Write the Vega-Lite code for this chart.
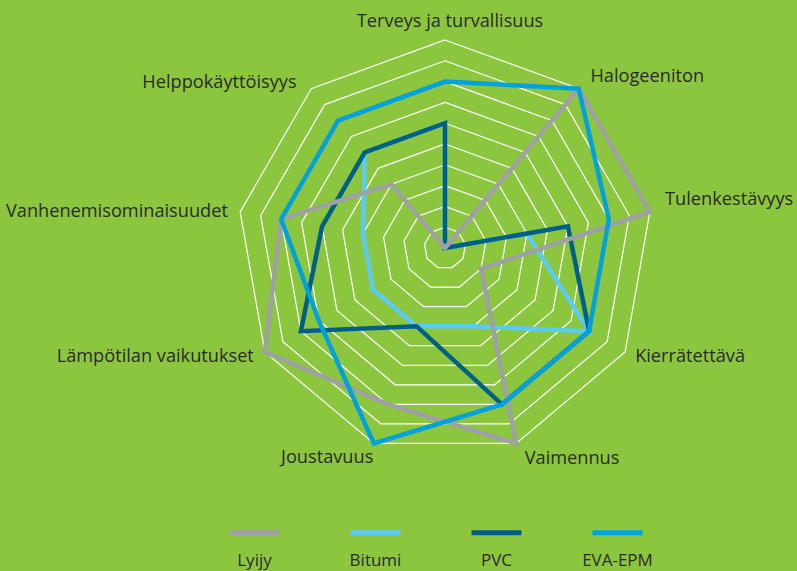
{
  "$schema": "https://vega.github.io/schema/vega-lite/v6.json",
  "width": 797,
  "height": 571,
  "autosize": {"type": "none"},
  "padding": 0,
  "background": "#8cc63f",
  "config": {"view": {"stroke": null}, "font": "Open Sans", "text": {"font": "Open Sans", "fontSize": 18.2, "color": "#2b2b2b", "baseline": "middle"}},
  "datasets": {
    "rings": [
      {"ring": 1, "a": [0,1,2,3,4,5,6,7,8]},
      {"ring": 2, "a": [0,1,2,3,4,5,6,7,8]},
      {"ring": 3, "a": [0,1,2,3,4,5,6,7,8]},
      {"ring": 4, "a": [0,1,2,3,4,5,6,7,8]},
      {"ring": 5, "a": [0,1,2,3,4,5,6,7,8]},
      {"ring": 6, "a": [0,1,2,3,4,5,6,7,8]},
      {"ring": 7, "a": [0,1,2,3,4,5,6,7,8]},
      {"ring": 8, "a": [0,1,2,3,4,5,6,7,8]},
      {"ring": 9, "a": [0,1,2,3,4,5,6,7,8]},
      {"ring": 10, "a": [0,1,2,3,4,5,6,7,8]}
    ],
    "labels": [
      {"label": "Terveys ja turvallisuus", "a": 0},
      {"label": "Halogeeniton", "a": 1},
      {"label": "Tulenkestävyys", "a": 2},
      {"label": "Kierrätettävä", "a": 3},
      {"label": "Vaimennus", "a": 4},
      {"label": "Joustavuus", "a": 5},
      {"label": "Lämpötilan vaikutukset", "a": 6},
      {"label": "Vanhenemisominaisuudet", "a": 7},
      {"label": "Helppokäyttöisyys", "a": 8}
    ],
    "scores": [
      {"s": "Bitumi", "a": 0, "v": 6},
      {"s": "Bitumi", "a": 1, "v": 0},
      {"s": "Bitumi", "a": 2, "v": 4},
      {"s": "Bitumi", "a": 3, "v": 8},
      {"s": "Bitumi", "a": 4, "v": 4},
      {"s": "Bitumi", "a": 5, "v": 4},
      {"s": "Bitumi", "a": 6, "v": 4},
      {"s": "Bitumi", "a": 7, "v": 4},
      {"s": "Bitumi", "a": 8, "v": 6},
      {"s": "PVC", "a": 0, "v": 6},
      {"s": "PVC", "a": 1, "v": 0},
      {"s": "PVC", "a": 2, "v": 6},
      {"s": "PVC", "a": 3, "v": 8},
      {"s": "PVC", "a": 4, "v": 8},
      {"s": "PVC", "a": 5, "v": 4},
      {"s": "PVC", "a": 6, "v": 8},
      {"s": "PVC", "a": 7, "v": 6},
      {"s": "PVC", "a": 8, "v": 6},
      {"s": "Lyijy", "a": 0, "v": 0},
      {"s": "Lyijy", "a": 1, "v": 10},
      {"s": "Lyijy", "a": 2, "v": 10},
      {"s": "Lyijy", "a": 3, "v": 2},
      {"s": "Lyijy", "a": 4, "v": 10},
      {"s": "Lyijy", "a": 5, "v": 8},
      {"s": "Lyijy", "a": 6, "v": 10},
      {"s": "Lyijy", "a": 7, "v": 8},
      {"s": "Lyijy", "a": 8, "v": 4},
      {"s": "EVA-EPM", "a": 0, "v": 8},
      {"s": "EVA-EPM", "a": 1, "v": 10},
      {"s": "EVA-EPM", "a": 2, "v": 8},
      {"s": "EVA-EPM", "a": 3, "v": 8},
      {"s": "EVA-EPM", "a": 4, "v": 8},
      {"s": "EVA-EPM", "a": 5, "v": 10},
      {"s": "EVA-EPM", "a": 6, "v": 7},
      {"s": "EVA-EPM", "a": 7, "v": 8},
      {"s": "EVA-EPM", "a": 8, "v": 8}
    ]
  },
  "layer": [
    {
      "data": {"name": "rings"},
      "transform": [
        {"flatten": ["a"]},
        {"calculate": "datum.ring * sin(datum.a * 2 * PI / 9)", "as": "x"},
        {"calculate": "datum.ring * cos(datum.a * 2 * PI / 9)", "as": "y"}
      ],
      "mark": {"type": "line", "interpolate": "linear-closed", "stroke": "#ffffff", "strokeWidth": 1.2},
      "encoding": {
        "x": {"field": "x", "type": "quantitative", "scale": {"domain": [-21.394, 16.923], "nice": false, "zero": false}, "axis": null},
        "y": {"field": "y", "type": "quantitative", "scale": {"domain": [-15.529, 11.923], "nice": false, "zero": false}, "axis": null},
        "detail": {"field": "ring", "type": "nominal"},
        "order": {"field": "a", "type": "quantitative"}
      }
    },
    {
      "data": {"name": "scores"},
      "transform": [
        {"calculate": "datum.v * sin(datum.a * 2 * PI / 9)", "as": "x"},
        {"calculate": "datum.v * cos(datum.a * 2 * PI / 9)", "as": "y"}
      ],
      "mark": {"type": "line", "interpolate": "linear-closed", "strokeWidth": 4.5, "strokeJoin": "miter", "strokeMiterLimit": 20},
      "encoding": {
        "x": {"field": "x", "type": "quantitative"},
        "y": {"field": "y", "type": "quantitative"},
        "order": {"field": "a", "type": "quantitative"},
        "color": {
          "field": "s",
          "type": "nominal",
          "scale": {"domain": ["Lyijy", "Bitumi", "PVC", "EVA-EPM"], "range": ["#9fa0a4", "#5bcbf2", "#005f86", "#00a1dc"]},
          "legend": {
            "title": null,
            "orient": "none",
            "legendX": 227,
            "legendY": 505,
            "direction": "horizontal",
            "symbolType": "stroke",
            "symbolSize": 2500,
            "symbolStrokeWidth": 5,
            "labelAlign": "center",
            "labelOffset": -27.5,
            "labelFont": "Open Sans",
            "labelFontSize": 17,
            "labelColor": "#2b2b2b",
            "gridAlign": "all",
            "columnPadding": 50,
            "encode": {"labels": {"update": {"dy": {"value": 28}}}}
          }
        }
      }
    },
    {
      "data": {"name": "labels"},
      "transform": [{"filter": "datum.a == 0"}, {"calculate": "10.5 * sin(datum.a * 2 * PI / 9)", "as": "x"}, {"calculate": "10.5 * cos(datum.a * 2 * PI / 9)", "as": "y"}],
      "mark": {"type": "text", "align": "center", "dx": 5, "dy": -8},
      "encoding": {"x": {"field": "x", "type": "quantitative"}, "y": {"field": "y", "type": "quantitative"}, "text": {"field": "label"}}
    },
    {
      "data": {"name": "labels"},
      "transform": [{"filter": "datum.a == 1"}, {"calculate": "10.5 * sin(datum.a * 2 * PI / 9)", "as": "x"}, {"calculate": "10.5 * cos(datum.a * 2 * PI / 9)", "as": "y"}],
      "mark": {"type": "text", "align": "left", "dx": 5, "dy": -4},
      "encoding": {"x": {"field": "x", "type": "quantitative"}, "y": {"field": "y", "type": "quantitative"}, "text": {"field": "label"}}
    },
    {
      "data": {"name": "labels"},
      "transform": [{"filter": "datum.a == 2"}, {"calculate": "10.5 * sin(datum.a * 2 * PI / 9)", "as": "x"}, {"calculate": "10.5 * cos(datum.a * 2 * PI / 9)", "as": "y"}],
      "mark": {"type": "text", "align": "left", "dx": 5, "dy": -10},
      "encoding": {"x": {"field": "x", "type": "quantitative"}, "y": {"field": "y", "type": "quantitative"}, "text": {"field": "label"}}
    },
    {
      "data": {"name": "labels"},
      "transform": [{"filter": "datum.a == 3"}, {"calculate": "10.5 * sin(datum.a * 2 * PI / 9)", "as": "x"}, {"calculate": "10.5 * cos(datum.a * 2 * PI / 9)", "as": "y"}],
      "mark": {"type": "text", "align": "left", "dx": 1, "dy": 0},
      "encoding": {"x": {"field": "x", "type": "quantitative"}, "y": {"field": "y", "type": "quantitative"}, "text": {"field": "label"}}
    },
    {
      "data": {"name": "labels"},
      "transform": [{"filter": "datum.a == 4"}, {"calculate": "10.5 * sin(datum.a * 2 * PI / 9)", "as": "x"}, {"calculate": "10.5 * cos(datum.a * 2 * PI / 9)", "as": "y"}],
      "mark": {"type": "text", "align": "left", "dx": 5, "dy": 5.5},
      "encoding": {"x": {"field": "x", "type": "quantitative"}, "y": {"field": "y", "type": "quantitative"}, "text": {"field": "label"}}
    },
    {
      "data": {"name": "labels"},
      "transform": [{"filter": "datum.a == 5"}, {"calculate": "10.5 * sin(datum.a * 2 * PI / 9)", "as": "x"}, {"calculate": "10.5 * cos(datum.a * 2 * PI / 9)", "as": "y"}],
      "mark": {"type": "text", "align": "right", "dx": 3, "dy": 5},
      "encoding": {"x": {"field": "x", "type": "quantitative"}, "y": {"field": "y", "type": "quantitative"}, "text": {"field": "label"}}
    },
    {
      "data": {"name": "labels"},
      "transform": [{"filter": "datum.a == 6"}, {"calculate": "10.5 * sin(datum.a * 2 * PI / 9)", "as": "x"}, {"calculate": "10.5 * cos(datum.a * 2 * PI / 9)", "as": "y"}],
      "mark": {"type": "text", "align": "right", "dx": -2, "dy": 0},
      "encoding": {"x": {"field": "x", "type": "quantitative"}, "y": {"field": "y", "type": "quantitative"}, "text": {"field": "label"}}
    },
    {
      "data": {"name": "labels"},
      "transform": [{"filter": "datum.a == 7"}, {"calculate": "10.5 * sin(datum.a * 2 * PI / 9)", "as": "x"}, {"calculate": "10.5 * cos(datum.a * 2 * PI / 9)", "as": "y"}],
      "mark": {"type": "text", "align": "right", "dx": -2, "dy": 2},
      "encoding": {"x": {"field": "x", "type": "quantitative"}, "y": {"field": "y", "type": "quantitative"}, "text": {"field": "label"}}
    },
    {
      "data": {"name": "labels"},
      "transform": [{"filter": "datum.a == 8"}, {"calculate": "10.5 * sin(datum.a * 2 * PI / 9)", "as": "x"}, {"calculate": "10.5 * cos(datum.a * 2 * PI / 9)", "as": "y"}],
      "mark": {"type": "text", "align": "right", "dx": -8, "dy": 2},
      "encoding": {"x": {"field": "x", "type": "quantitative"}, "y": {"field": "y", "type": "quantitative"}, "text": {"field": "label"}}
    }
  ]
}
